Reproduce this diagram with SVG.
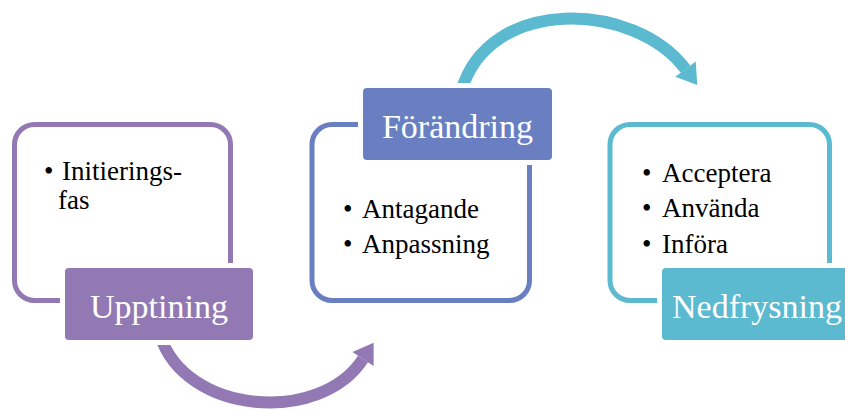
<svg xmlns="http://www.w3.org/2000/svg" width="845" height="410" viewBox="0 0 845 410">
<style>
.frame{fill:none;stroke-width:5}
.gap{fill:#fff}
.lbl{font-family:"Liberation Serif","Times New Roman",serif;font-size:34px;fill:#fff;text-anchor:middle}
.bul{font-family:"Liberation Serif","Times New Roman",serif;font-size:27px;fill:#000}
.arc{fill:none;stroke-width:12;stroke-linecap:butt}
</style>
<rect width="845" height="410" fill="#fff"/>
<g id="connectors">
<path class="arc" stroke="#9279B3" d="M160,335 C185,415 320,425 363,359"/>
<polygon fill="#9279B3" points="352.4,352.1 373.6,342.7 373.6,365.9"/>
<path class="arc" stroke="#5BB9D0" d="M461,92 C488,-5 634.6,1 685.5,69.2"/>
<polygon fill="#5BB9D0" points="675.3,76.8 695.7,61.6 697.3,85"/>
</g>
<g id="upptining">
<rect class="frame" stroke="#9279B3" x="14.5" y="124.5" width="216" height="176" rx="20"/>
<rect class="gap" x="60" y="263" width="198" height="82" rx="6"/>
<rect fill="#9279B3" x="65" y="268" width="188" height="72" rx="4"/>
<text class="lbl" x="159" y="318">Upptining</text>
<text class="bul"><tspan x="44" y="180">•</tspan><tspan x="62" y="180">Initierings-</tspan><tspan x="58" y="209">fas</tspan></text>
</g>
<g id="forandring">
<rect class="frame" stroke="#6A7FC1" x="312" y="124.5" width="217.5" height="176" rx="20"/>
<rect class="gap" x="358" y="83" width="199" height="82" rx="6"/>
<rect fill="#6A7FC1" x="363" y="88" width="189" height="72" rx="4"/>
<text class="lbl" x="457.5" y="138">Förändring</text>
<text class="bul"><tspan x="343" y="218">•</tspan><tspan x="362" y="218">Antagande</tspan><tspan x="343" y="253">•</tspan><tspan x="362" y="253">Anpassning</tspan></text>
</g>
<g id="nedfrysning">
<rect class="frame" stroke="#5BB9D0" x="610" y="124.5" width="219.5" height="176" rx="20"/>
<rect class="gap" x="657" y="263" width="198" height="82" rx="6"/>
<rect fill="#5BB9D0" x="662" y="268" width="188" height="72" rx="4"/>
<text class="lbl" x="757" y="318">Nedfrysning</text>
<text class="bul"><tspan x="642" y="182">•</tspan><tspan x="662" y="182">Acceptera</tspan><tspan x="642" y="217">•</tspan><tspan x="662" y="217">Använda</tspan><tspan x="642" y="253">•</tspan><tspan x="662" y="253">Införa</tspan></text>
</g>
</svg>
